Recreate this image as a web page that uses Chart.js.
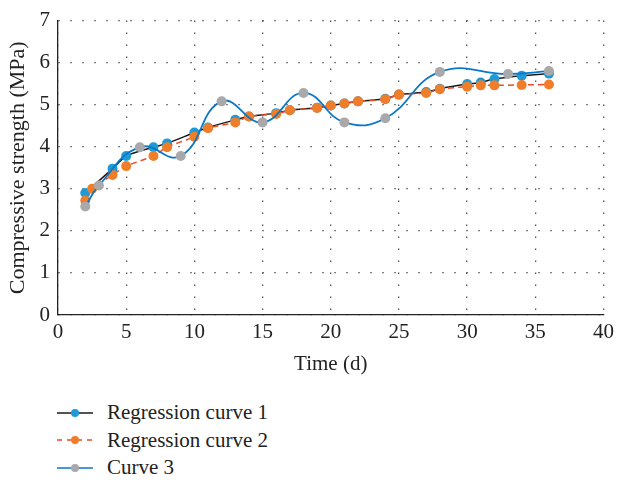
<!DOCTYPE html>
<html>
<head>
<meta charset="utf-8">
<script src="https://cdn.jsdelivr.net/npm/chart.js@4.4.1/dist/chart.umd.min.js"></script>
<style>
    body { margin: 0; background: #fff; }
    #wrap { position: relative; width: 619px; height: 485px; }
    #box { position: absolute; left: 0; top: 0; width: 619px; height: 385px; }
    #legend { position: absolute; left: 57px; top: 399px; font-family: "Liberation Serif", serif; font-size: 21px; color: #222; }
    .item { display: flex; align-items: center; height: 27.5px; }
    .item svg { margin-right: 14px; }
</style>
</head>
<body>
<div id="wrap">
    <div id="box"><canvas id="strengthChart"></canvas></div>
    <div id="legend"></div>
</div>
<script>
    // days / values
    const reg1Days   = [2, 4, 5, 7, 8, 10, 11, 13, 14, 16, 17, 19, 20, 21, 22, 24, 25, 27, 28, 30, 31, 32, 34, 36];
    const reg1Values = [2.9, 3.48, 3.78, 3.99, 4.08, 4.34, 4.46, 4.64, 4.72, 4.8, 4.87, 4.93, 4.98, 5.03, 5.08, 5.14, 5.24, 5.3, 5.38, 5.49, 5.53, 5.61, 5.69, 5.74];

    const reg2Days   = [2, 2.5, 4, 5, 7, 8, 10, 11, 13, 14, 16, 17, 19, 20, 21, 22, 24, 25, 27, 28, 30, 31, 32, 34, 36];
    const reg2Values = [2.72, 3.0, 3.33, 3.54, 3.78, 3.99, 4.24, 4.44, 4.58, 4.72, 4.78, 4.87, 4.92, 4.98, 5.03, 5.08, 5.13, 5.24, 5.28, 5.37, 5.43, 5.46, 5.46, 5.47, 5.48];

    const curve3Days   = [2, 3, 6, 9, 12, 15, 18, 21, 24, 28, 33, 36];
    const curve3Values = [2.58, 3.08, 3.99, 3.78, 5.08, 4.58, 5.28, 4.58, 4.68, 5.78, 5.73, 5.8];

    const xTicks = [0, 5, 10, 15, 20, 25, 30, 35, 40];
    const yTicks = [0, 1, 2, 3, 4, 5, 6, 7];

    const seriesNames = ['Regression curve 1', 'Regression curve 2', 'Curve 3'];

    const FONT = '"Liberation Serif", "Times New Roman", serif';

    function toPoints(xs, ys) {
        return xs.map((x, i) => ({ x: x, y: ys[i] }));
    }

    const series = [
        { line: '#1a1a1a', dot: '#1e9bd7', dash: [], width: 1.5, tension: 0.25, order: 3, data: toPoints(reg1Days, reg1Values) },
        { line: '#ec4a25', dot: '#f07d2a', dash: [6, 4], width: 1.5, tension: 0.25, order: 2, data: toPoints(reg2Days, reg2Values) },
        { line: '#0a78c8', dot: '#a9a9ab', dash: [], width: 1.8, tension: 0.45, order: 1, data: toPoints(curve3Days, curve3Values) }
    ];

    function buildLegend() {
        const host = document.getElementById('legend');
        series.forEach((s, i) => {
            const row = document.createElement('div');
            row.className = 'item';
            const dash = s.dash.length ? 'stroke-dasharray="5 5"' : '';
            row.innerHTML =
                `<svg width="36" height="12"><line x1="0" y1="6" x2="36" y2="6" stroke="${s.line}" stroke-width="1.5" ${dash}/>` +
                `<circle cx="18" cy="6" r="4" fill="${s.dot}"/></svg><span>${seriesNames[i]}</span>`;
            host.appendChild(row);
        });
    }

    function renderChart() {
        const canvas = document.getElementById('strengthChart');
        new Chart(canvas.getContext('2d'), {
            type: 'line',
            data: {
                datasets: series.map((s, i) => ({
                    label: seriesNames[i],
                    data: s.data,
                    borderColor: s.line,
                    borderWidth: s.width,
                    borderDash: s.dash,
                    tension: s.tension,
                    pointRadius: 5,
                    pointBackgroundColor: s.dot,
                    pointBorderWidth: 0,
                    fill: false,
                    order: s.order
                }))
            },
            options: {
                responsive: true,
                maintainAspectRatio: false,
                animation: false,
                layout: { padding: { top: 20, right: 13, left: 0, bottom: 0 } },
                plugins: { legend: { display: false }, tooltip: { enabled: false } },
                scales: {
                    x: {
                        type: 'linear',
                        min: 0, max: 40,
                        afterFit: (scale) => { scale.height = 70; },
                        afterBuildTicks: (scale) => { scale.ticks = xTicks.map(v => ({ value: v })); },
                        ticks: { padding: 5, color: '#222', font: { family: FONT, size: 21 } },
                        grid: { color: '#555', lineWidth: 1.3, drawTicks: false },
                        border: { color: '#222', width: 1.3, dash: [1.5, 10.5] },
                        title: { display: true, text: 'Time (d)', color: '#222', padding: { top: 0, bottom: 8 }, font: { family: FONT, size: 21 } }
                    },
                    y: {
                        min: 0, max: 7,
                        afterFit: (scale) => { scale.width = 58; },
                        afterBuildTicks: (scale) => { scale.ticks = yTicks.map(v => ({ value: v })); },
                        ticks: { padding: 8, color: '#222', font: { family: FONT, size: 21 } },
                        grid: { color: '#555', lineWidth: 1.3, drawTicks: false },
                        border: { color: '#222', width: 1.3, dash: [1.5, 10.5] },
                        title: { display: true, text: 'Compressive strength (MPa)', color: '#222', padding: { top: 5, bottom: 0 }, font: { family: FONT, size: 22 } }
                    }
                }
            }
        });
    }

    buildLegend();
    renderChart();
</script>
</body>
</html>
